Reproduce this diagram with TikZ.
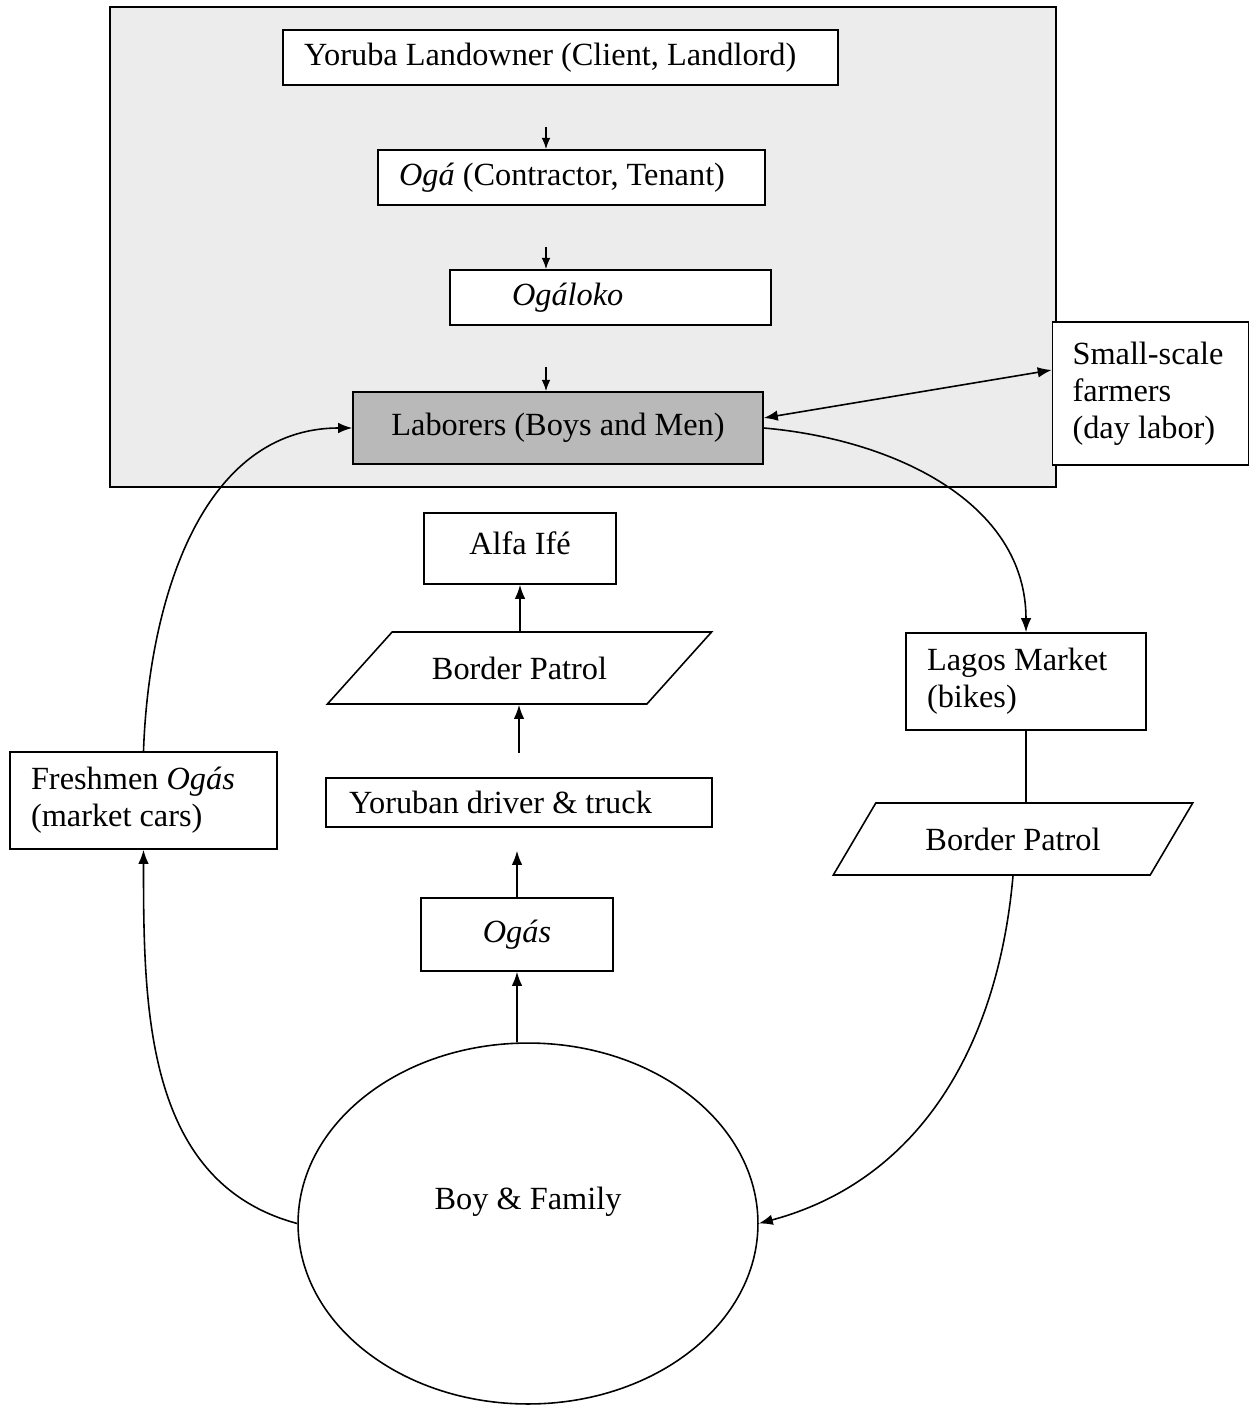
\documentclass[tikz,border=0pt]{standalone}
\usepackage{fontspec}
\setmainfont{Liberation Serif}
\usetikzlibrary{shapes.geometric,arrows.meta}

\begin{document}
\begin{tikzpicture} [x=0.02cm, y=0.02cm, >={Latex[length=8pt,width=6pt]}, line width=0.9pt,
		font=\fontsize{18.4}{21}\selectfont,
		box/.style={draw, fill=white, align=flush left, inner xsep=0.42cm},
		lean/.style={draw, fill=white, trapezium, trapezium stretches=true, minimum height=1.44cm},
		small/.style={-{Latex[length=6.5pt,width=5pt]}, shorten <=0.82cm}]
		%\draw [thin, help lines] (0,0) grid [step=100] (1256,-1406);
		\useasboundingbox (0,0) rectangle (1256,-1406);
		\draw [fill=gray!15] (110,-7) rectangle (1056,-487);

		\node [box, text width=10.26cm, minimum height=1.1cm] (landowner) at (560.5,-57.5) {Yoruba Landowner (Client, Landlord)};
		\node [box, text width=6.9cm, minimum height=1.1cm] (oga) at (571.5,-177.5) {\textit{Ogá} (Contractor, Tenant)};
		\node [box, inner xsep=1.24cm, text width=3.94cm, minimum height=1.1cm] (ogaloko) at (610.5,-297.5) {\textit{Ogáloko}};
		\node [box, fill=gray!55, align=center, minimum width=8.2cm, minimum height=1.44cm] (laborers) at (558,-428) {Laborers (Boys and Men)};
		\node [box, inner xsep=0.4cm, text width=3.12cm, minimum height=2.86cm] (farmers) at (1150.5,-393.5) {Small-scale\\farmers\\(day labor)};

		\node [box, align=center, minimum width=3.84cm, minimum height=1.42cm, text depth=0.2cm] (alfa) at (520,-548.5) {Alfa Ifé};
		\node [lean, trapezium left angle=36, trapezium right angle=144, minimum width=7.7cm] (bp1) at (519.5,-668) {Border Patrol};
		\node [box, inner xsep=0.46cm, text width=6.8cm, minimum height=0.98cm] (driver) at (519,-802.5) {Yoruban driver \& truck};
		\node [box, align=center, minimum width=3.84cm, minimum height=1.46cm] (ogas) at (517,-934.5) {\textit{Ogás}};
		\node [draw, ellipse, minimum width=9.2cm, minimum height=7.22cm, text depth=1.0cm] (family) at (528,-1223.5) {Boy \& Family};

		\node [box, text width=4.5cm, minimum height=1.94cm] (freshmen) at (143.5,-800.5) {Freshmen \textit{Ogás}\\(market cars)};
		\node [box, text width=3.96cm, minimum height=1.94cm] (lagos) at (1026,-681.5) {Lagos Market\\(bikes)};
		\node [lean, trapezium left angle=50, trapezium right angle=130, minimum width=7.2cm] (bp2) at (1013,-839) {Border Patrol};

		\coordinate (col) at (546,0);
		\draw [small] (landowner.south -| col) -- (oga.north -| col);
		\draw [small] (oga.south -| col) -- (ogaloko.north -| col);
		\draw [small] (ogaloko.south -| col) -- (laborers.north -| col);
		\draw [<->] ([yshift=0.2cm]laborers.east) -- ([yshift=0.47cm]farmers.west);

		\draw [->] (family.north -| ogas) -- (ogas.south);
		\draw [->, shorten >=0.46cm] (ogas.north) -- (ogas.north |- driver.south);
		\draw [->, shorten <=0.48cm] (driver.north) -- (driver.north |- bp1.south);
		\draw [->] (alfa.south |- bp1.north) -- (alfa.south);

		\draw [->] (family.west) to [out=165, in=-90] (freshmen.south);
		\draw [->] (freshmen.north) to [out=88, in=180] (laborers.west);
		\draw [->] (laborers.east) to [out=-5, in=90] (lagos.north);
		\draw (lagos.south) -- (lagos.south |- bp2.north);
		\draw [->] (bp2.center |- bp2.south) to [out=-95, in=15] (family.east);
	\end{tikzpicture}
\end{document}
